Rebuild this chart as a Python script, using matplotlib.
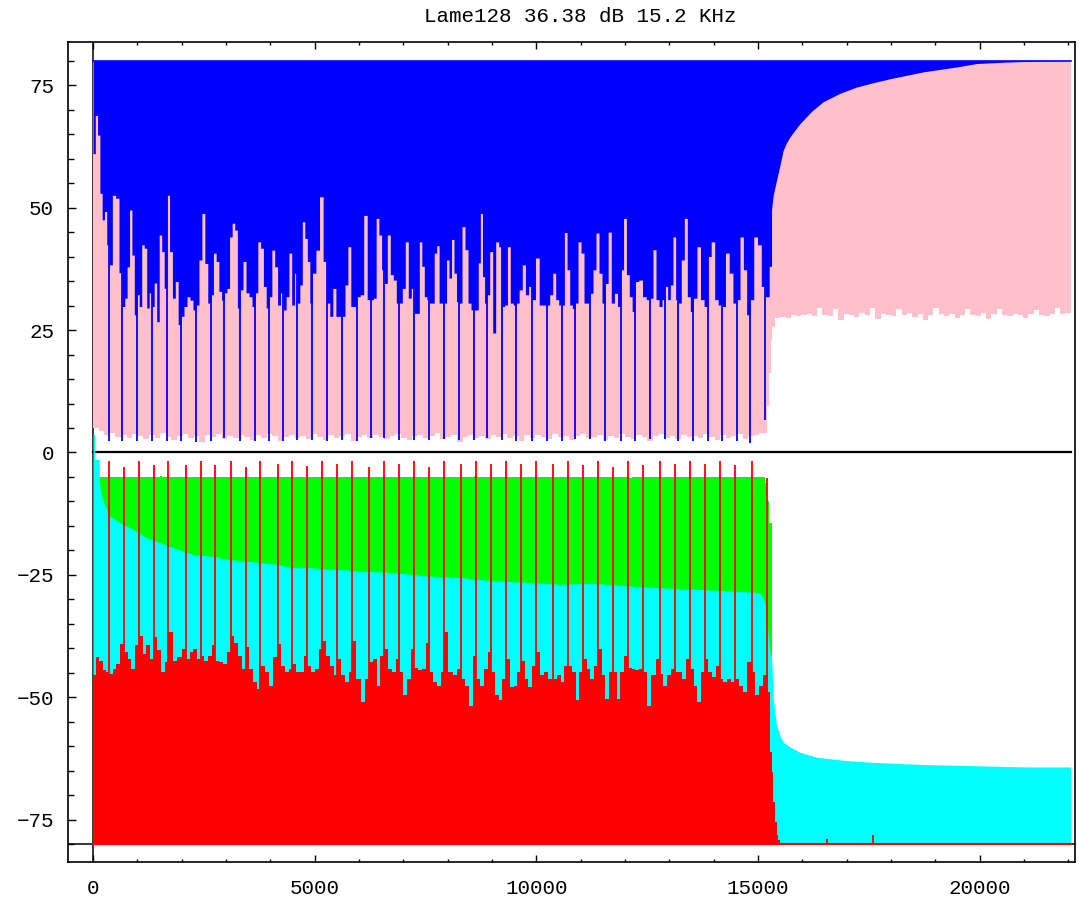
import numpy as np
import matplotlib
matplotlib.use('Agg')
import matplotlib.pyplot as plt

# ---- upper half: blue spectrum over pink band ----
blue_spike_hz = [361, 661, 986, 1324, 1662, 1985, 2323, 2655, 2961, 3315,
                 3654, 3969, 4292, 4608, 4946, 5271, 5616, 5947, 6263, 6570,
                 6908, 7246, 7585, 7916, 8254, 8593, 8879, 9217, 9540, 9894,
                 10232, 10571, 10871, 11209, 11547, 11901, 12224, 12562, 12900, 13200,
                 13539, 13863, 14179, 14517, 14817, 15156]
blue_spike_floor = [2.3, 2.3, 2.3, 2.3, 2.3, 2.3, 2.1, 2.3, 2.9, 2.3,
                    2.3, 2.3, 2.3, 2.6, 2.6, 2.3, 2.6, 2.3, 3.0, 3.0,
                    2.6, 2.6, 2.6, 2.8, 2.6, 2.6, 3.0, 2.6, 2.3, 2.3,
                    2.3, 2.3, 2.8, 2.8, 2.3, 2.3, 2.3, 2.8, 2.8, 2.3,
                    2.3, 2.3, 2.3, 2.3, 2.0, 6.7]
blue_head = [61.0, 68.8, 64.8, 52.9, 47.5, 49.2, 42.4]
blue_gaps = [
    [38.3, 52.5, 51.9, 36.7],
    [29.8, 31.5, 37.9, 49.5, 40.3, 28.1],
    [32.2, 29.8, 42.4, 41.7, 29.5, 32.6],
    [29.8, 34.6, 26.7, 44.4, 41.0, 33.5],
    [52.5, 41.0, 31.5, 34.9, 26.1],
    [27.8, 29.8, 31.8, 31.1, 29.1],
    [30.1, 39.3, 48.8, 38.6, 30.5],
    [32.2, 40.7, 39.0, 32.9, 31.1],
    [32.6, 33.5, 44.0, 46.8, 45.4, 29.5],
    [33.2, 39.0, 32.6, 31.8, 29.8],
    [32.6, 43.0, 41.7, 33.9, 29.5],
    [31.8, 41.3, 37.9, 30.1, 32.6],
    [29.1, 31.8, 40.7, 30.1, 36.6],
    [30.5, 34.2, 47.1, 43.7, 39.0, 30.5],
    [36.6, 41.3, 52.2, 39.0],
    [30.5, 27.8, 33.5, 27.8, 27.8],
    [27.8, 34.2, 42.0, 29.8, 29.8],
    [31.8, 32.2, 48.4, 31.2],
    [31.2, 31.5, 47.8, 44.4, 37.3],
    [34.5, 44.4, 36.3, 35.2, 30.5],
    [30.5, 33.5, 43.0, 31.5, 33.5],
    [28.4, 28.4, 43.0, 38.0, 31.8, 31.2],
    [30.5, 30.5, 40.7, 42.2, 30.5, 30.5],
    [30.5, 39.3, 35.6, 43.5, 36.6, 30.8],
    [30.5, 46.1, 41.4, 30.5, 29.1],
    [29.1, 29.1, 38.7, 48.8, 35.9, 30.5],
    [32.2, 41.0, 24.4, 43.0, 42.0],
    [29.8, 30.1, 42.0, 30.5, 30.1],
    [30.5, 33.2, 38.3, 32.2, 33.9],
    [31.2, 39.7, 30.1, 30.1],
    [30.1, 32.2, 36.6, 31.2, 30.1],
    [30.1, 44.9, 37.3, 30.1, 29.4],
    [30.5, 43.0, 40.7, 30.5, 30.5],
    [32.5, 37.3, 44.8, 36.6, 30.5],
    [34.5, 45.0, 30.5, 32.5, 29.8],
    [37.3, 47.8, 36.3, 31.8, 28.8],
    [34.9, 35.2, 31.8, 31.2],
    [31.5, 41.4, 31.2, 29.8, 31.2],
    [33.9, 31.2, 34.2, 44.0, 31.2],
    [30.5, 39.3, 47.8, 31.8, 28.8],
    [31.5, 42.0, 31.2, 29.8],
    [40.0, 43.0, 31.2, 30.1],
    [29.8, 40.7, 36.6, 30.5],
    [31.2, 44.0, 37.3, 28.1],
    [31.2, 44.0, 42.4, 33.9],
]
blue_tail_hz = [15156, 15250, 15250, 15303, 15303, 15340, 15416, 15490, 15565, 15640,
                15716, 15830, 15941, 16200, 16467, 16840, 17219, 17600, 17971, 18350,
                18722, 19100, 19474, 19925, 20602, 21300, 22050]
blue_tail = [31.8, 31.8, 38.0, 38.0, 49.5, 52.5, 55.6, 58.5, 61.7, 63.2,
             64.4, 65.8, 67.1, 69.6, 71.6, 73.3, 74.6, 75.5, 76.3, 77.0,
             77.7, 78.2, 78.7, 79.4, 79.7, 79.9, 80.0]

pink_floor_left = [
    5.0, 4.3, 3.6, 3.9, 3.1, 3.5, 2.9, 3.8, 3.3, 2.7,
    3.6, 3.0, 3.9, 3.2, 2.5, 3.4, 3.7, 2.9, 3.3, 2.2,
    3.5, 3.1, 3.8, 2.8, 3.4, 3.0, 3.6, 3.2, 2.6, 3.5,
    2.9, 3.8, 3.3, 2.4, 3.1, 3.6, 3.0, 3.4, 2.8, 3.7,
    3.2, 2.6, 3.5, 2.9, 3.3, 3.8, 2.3, 3.2, 3.5, 2.9,
    3.6, 3.1, 2.7, 3.4, 3.8, 3.0, 2.5, 3.3, 3.6, 2.9,
    3.4, 3.9, 2.8, 3.2, 3.5, 2.2, 3.1, 3.6, 3.0, 3.4,
    2.7, 3.5, 3.1, 3.8, 2.9, 3.3, 2.4, 3.5, 3.0, 3.6,
    3.2, 2.8, 3.7, 3.1, 3.4, 2.6, 3.3, 3.8, 2.9, 3.2,
    3.6, 2.5, 3.4, 3.0, 3.7, 3.1, 2.8, 3.5, 3.2, 2.3,
    3.4, 3.7, 3.0, 3.3, 2.7, 3.6, 3.1, 3.4, 2.9, 3.8,
    3.2, 2.6, 3.5, 3.0, 3.4, 3.7, 2.8, 3.3, 3.6, 4.0]
pink_step_hz = [15156, 15200, 15253, 15290, 15320, 15380]
pink_step = [4.0, 9.4, 16.2, 23.0, 25.7]
pink_floor_right = [
    27.4, 27.6, 27.4, 28.1, 27.8, 28.1, 28.3, 27.9, 29.4, 28.1,
    27.8, 29.3, 27.1, 28.2, 28.0, 27.7, 28.4, 28.1, 29.4, 27.2,
    28.3, 28.0, 27.9, 29.3, 28.1, 28.4, 27.6, 28.2, 27.1, 28.0,
    29.4, 28.2, 27.9, 28.3, 27.5, 28.1, 29.2, 28.0, 27.8, 28.4,
    27.3, 28.2, 29.3, 28.0, 27.9, 28.3, 28.1, 27.4, 28.2, 29.0,
    28.1, 27.8, 28.3, 29.4, 28.2, 28.4]

# ---- lower half: green / cyan / red ----
green_top_hz = [142, 1500, 1560, 4800, 4860, 8600, 8660, 12100, 12160, 15156, 15194, 15253, 15303]
green_top = [-5.1, -4.8, -5.1, -5.4, -5.1, -4.9, -5.1, -5.3, -5.1, -6.2, -9.9, -14.3]

cyan_top_hz = [0, 40, 40, 142, 142, 196, 271, 383, 609, 909,
               1211, 1511, 1888, 2262, 2639, 3015, 3390, 3766, 4143, 4517,
               4893, 5271, 5645, 6022, 6773, 7526, 8277, 9028, 9781, 10532,
               11283, 12036, 12788, 13539, 14291, 15043, 15156, 15269, 15303, 15340,
               15416, 15491, 15566, 15716, 15941, 16317, 16994, 17670, 18722, 21053, 22050]
cyan_top = [3.7, 3.7, -1.4, -1.4, -6.2, -8.9, -10.9, -13.0, -14.3, -15.7,
            -17.4, -18.4, -19.7, -20.8, -21.1, -21.8, -22.1, -22.5, -22.8, -23.5,
            -23.5, -23.8, -23.9, -24.2, -24.5, -25.2, -25.5, -26.2, -26.5, -26.9,
            -26.7, -27.2, -27.6, -27.9, -28.2, -28.6, -30.6, -41.0, -41.5, -50.3,
            -55.7, -57.8, -59.1, -60.1, -61.2, -62.2, -62.9, -63.3, -63.7, -64.2, -64.2]

red_spike_hz = [361, 692, 1037, 1369, 1698, 2097, 2429, 2758, 3106, 3444,
                3773, 4166, 4495, 4833, 5171, 5510, 5848, 6225, 6570, 6908,
                7246, 7585, 7923, 8300, 8645, 8983, 9314, 9659, 9984, 10368,
                10719, 11051, 11389, 11727, 12059, 12404, 12781, 13119, 13464, 13796,
                14134, 14472, 14856, 15194]
red_spike_top = [-1.8, -3.0, -1.8, -2.6, -1.8, -2.6, -1.8, -2.6, -1.8, -3.0,
                 -1.8, -2.4, -1.8, -2.8, -1.8, -2.4, -1.8, -3.0, -1.8, -2.4,
                 -1.8, -2.9, -1.8, -2.4, -1.8, -2.4, -1.8, -2.4, -1.8, -2.4,
                 -1.8, -2.6, -1.8, -2.9, -1.8, -2.6, -1.8, -2.4, -1.8, -2.4,
                 -1.8, -2.6, -1.8, -5.2]
red_head = [-45.5, -41.8, -42.5, -44.5, -44.9]
red_gaps = [
    [-45.2, -44.2, -43.2, -39.1], [-40.8, -42.1, -44.2, -39.4],
    [-37.4, -41.1, -39.4, -42.1], [-37.7, -40.4, -44.9, -42.8],
    [-36.7, -42.5, -41.8, -40.1], [-42.1, -40.8, -40.1, -42.1],
    [-41.5, -42.5, -41.5, -39.4], [-42.5, -42.8, -43.2, -40.8],
    [-37.4, -38.8, -41.5, -44.2], [-39.8, -44.2, -46.9, -48.3],
    [-43.5, -44.9, -47.6, -41.8], [-39.1, -43.5, -44.9, -44.2],
    [-43.2, -44.9, -44.9, -41.5], [-43.5, -44.9, -44.2, -40.1],
    [-38.4, -41.5, -43.5, -45.5], [-42.1, -45.5, -46.9, -44.9],
    [-38.4, -46.2, -50.9, -46.2], [-42.8, -42.1, -47.6, -41.5],
    [-40.1, -44.2, -44.9, -42.1], [-44.9, -49.6, -46.2, -40.1],
    [-43.9, -44.5, -44.2, -38.8], [-44.9, -46.9, -47.6, -44.9],
    [-36.7, -44.9, -45.5, -44.2], [-46.2, -47.6, -51.7, -41.5],
    [-46.2, -47.6, -44.2, -40.8], [-44.9, -49.6, -50.6, -46.2],
    [-42.1, -47.9, -47.6, -44.9], [-42.5, -46.2, -47.9, -43.5],
    [-40.8, -45.5, -44.9, -46.2], [-46.2, -45.5, -46.9, -43.5],
    [-43.5, -44.9, -50.6, -44.9], [-42.1, -44.2, -46.2, -43.5],
    [-40.1, -45.5, -50.3, -44.9], [-44.9, -50.3, -44.9, -41.5],
    [-43.9, -44.2, -44.5, -44.2], [-44.9, -51.7, -45.5, -42.1],
    [-45.2, -47.6, -45.5, -44.2], [-44.9, -44.9, -46.2, -42.1],
    [-44.2, -47.6, -50.9, -44.9], [-42.1, -44.9, -45.9, -43.5],
    [-46.2, -46.9, -46.2, -46.9], [-46.2, -47.6, -48.9, -42.8],
    [-44.9, -49.6, -47.6, -45.5],
]
red_tail_hz = [15194, 15230, 15265, 15303, 15340, 15378, 15416, 15453, 15491, 22050]
red_tail = [-44.9, -48.9, -61.2, -65.2, -71.3, -75.4, -78.1, -79.2, -80.0]
red_bump_hz = [16547, 17598]
red_bump_top = [-79.0, -78.1]

x_ticks = [0, 5000, 10000, 15000, 20000]
y_ticks = [-75, -50, -25, 0, 25, 50, 75]
title = 'Lame128 36.38 dB 15.2 KHz'


def stairs(edges, values):
    edges = np.asarray(edges, float)
    values = np.asarray(values, float)
    return np.repeat(edges, 2)[1:-1], np.repeat(values, 2)


def gap_stairs(bounds, groups):
    edges, vals = [], []
    for a, b, g in zip(bounds[:-1], bounds[1:], groups):
        edges.extend(np.linspace(a, b, len(g) + 1)[:-1])
        vals.extend(g)
    edges.append(bounds[-1])
    return stairs(edges, vals)


plt.rcParams['font.family'] = ['Liberation Mono', 'DejaVu Sans Mono']
fig = plt.figure(figsize=(10.79, 8.97), dpi=100)
ax = fig.add_axes([68 / 1079, 35 / 897, 1007 / 1079, 820 / 897])
ax.set_xlim(-564, 22147)
ax.set_ylim(-83.6, 83.8)

# axes through (0, -80)
ax.axvline(0, color='black', lw=1.1, zorder=0.5)
ax.axhline(-80, color='black', lw=1.1, zorder=0.5)

# pink band
px1, py1 = stairs(np.linspace(0, 15156, len(pink_floor_left) + 1), pink_floor_left)
px2, py2 = stairs(pink_step_hz, pink_step)
px3, py3 = stairs(np.linspace(15380, 22050, len(pink_floor_right) + 1), pink_floor_right)
px = np.concatenate([px1, px2, px3])
py = np.concatenate([py1, py2, py3])
ax.fill_between(px, py, 80, color='pink', lw=0, zorder=1)

# blue spectrum
bx, by = gap_stairs([0] + blue_spike_hz, [blue_head] + blue_gaps)
bx = np.concatenate([bx, blue_tail_hz])
by = np.concatenate([by, blue_tail])
ax.fill_between(bx, by, 80, color='blue', lw=0, zorder=2)
ax.plot([0, 22050], [80, 80], color='blue', lw=1.2, zorder=2)
ax.vlines(blue_spike_hz, blue_spike_floor, 80, color='blue', lw=1.3, zorder=2)

ax.plot([0, 22050], [0, 0], color='black', lw=1.6, zorder=3)

# lower half
gx, gy = stairs(green_top_hz, green_top)
ax.fill_between(gx, gy, -80, color='#00ff00', lw=0, zorder=4)
ax.fill_between(cyan_top_hz, cyan_top, -80, color='cyan', lw=0, zorder=5)

rx, ry = gap_stairs([0] + red_spike_hz, [red_head] + red_gaps)
tx, ty = stairs(red_tail_hz, red_tail)
rx = np.concatenate([rx, tx])
ry = np.concatenate([ry, ty])
ax.fill_between(rx, ry, -80, color='red', lw=0, zorder=6)
ax.plot([0, 22050], [-80, -80], color='red', lw=1.5, zorder=6)
ax.vlines(red_spike_hz, -80, red_spike_top, color='red', lw=1.3, zorder=6)
ax.vlines(red_bump_hz, -80, red_bump_top, color='red', lw=1.3, zorder=6)

# frame and ticks
for s in ax.spines.values():
    s.set_linewidth(1.2)
    s.set_zorder(10)
ax.set_xticks(x_ticks)
ax.set_xticks(np.arange(0, 22001, 1000), minor=True)
ax.set_yticks(y_ticks)
ax.set_yticks(np.arange(-80, 81, 5), minor=True)
ax.tick_params(axis='both', which='both', direction='in', width=1.0,
               labelsize=15, pad=10)
ax.tick_params(axis='x', which='major', length=5.0, top=True)
ax.tick_params(axis='x', which='minor', length=2.2, top=True)
ax.tick_params(axis='y', which='major', length=5.8, right=False)
ax.tick_params(axis='y', which='minor', length=4.0, right=False)
ax.tick_params(axis='x', pad=12)

fig.text(580 / 1079, 1 - 17 / 897, title, ha='center', va='center', fontsize=15)

fig.savefig('out.png', dpi=100)
